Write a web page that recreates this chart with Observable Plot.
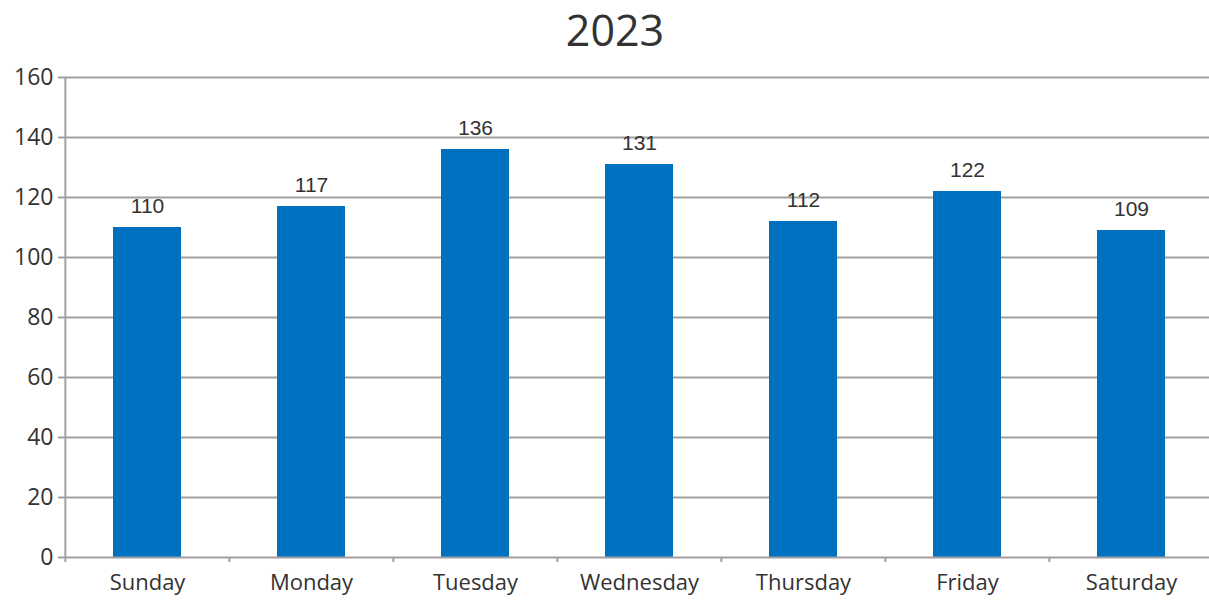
<!DOCTYPE html>
<html><head><meta charset="utf-8">
<script src="https://cdn.jsdelivr.net/npm/d3@7"></script>
<script src="https://cdn.jsdelivr.net/npm/@observablehq/plot@0.6"></script>
<style>
html,body{margin:0;padding:0;background:#fff;overflow:hidden;width:1209px;height:600px}
#title{position:relative;height:60px;}
#title span{position:absolute;left:615px;top:0;transform:translateX(-50%);font-family:"Open Sans";font-size:43px;color:#333;line-height:normal;white-space:nowrap}
#chart svg{display:block;max-width:none !important}
</style></head><body>
<div id="title"><span id="t"></span></div>
<div id="chart"></div>
<script>
const title = "2023";
const days = ["Sunday", "Monday", "Tuesday", "Wednesday", "Thursday", "Friday", "Saturday"];
const counts = [110, 117, 136, 131, 112, 122, 109];
const yTicks = [0, 20, 40, 60, 80, 100, 120, 140, 160];

document.getElementById("t").textContent = title;
const data = days.map((d, i) => ({day: d, count: counts[i]}));

const W = 1214, H = 540, ML = 64, MR = 0;
const step = (W - ML - MR) / days.length;
const grey = "#a0a0a0";

const chart = Plot.plot({
  width: W, height: H,
  marginTop: 17, marginBottom: 43, marginLeft: ML, marginRight: MR,
  style: {fontFamily: "Open Sans", fontSize: "22px", color: "#333", background: "#fff", overflow: "visible", maxWidth: "none"},
  x: {domain: days, padding: 0, label: null},
  y: {domain: [0, 160], ticks: yTicks, label: null},
  marks: [
    Plot.gridY(yTicks.slice(1), {stroke: grey, strokeOpacity: 1, strokeWidth: 2}),
    Plot.barY(data, {x: "day", y: "count", fill: "#0070C0", insetLeft: 48, insetRight: 48}),
    Plot.ruleY([0], {stroke: grey, strokeWidth: 2}),
    Plot.ruleX([days[0]], {x: d => d, dx: -step / 2, y1: 0, y2: 160, stroke: grey, strokeWidth: 2}),
    Plot.ruleX(days, {x: d => d, dx: -step / 2, y1: 0, y2: 0, insetBottom: -5, stroke: grey, strokeWidth: 2}),
    Plot.axisY({ticks: yTicks, tickSize: 6, tickPadding: 5, stroke: grey, strokeWidth: 2, fill: "#333", fontSize: 23, label: null}),
    Plot.axisX({tickSize: 0, tickPadding: 17, fill: "#333", fontSize: 22, label: null}),
    Plot.text(data, {x: "day", y: "count", text: d => String(d.count), dy: -21, fontFamily: "Liberation Sans", fontSize: 21, fill: "#333"})
  ]
});
document.getElementById("chart").appendChild(chart);
</script>
</body></html>
